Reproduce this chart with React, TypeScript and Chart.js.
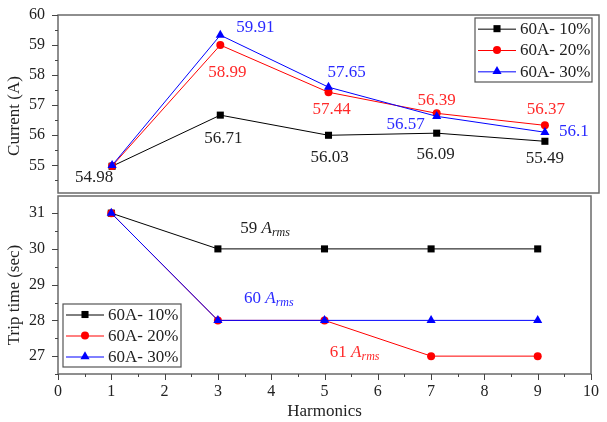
import React, { useEffect, useRef } from 'react';
import { Chart, registerables } from 'chart.js';

Chart.register(...registerables);

// ---------------- data ----------------
const harmonics = [1, 3, 5, 7, 9];
const seriesNames = ['60A- 10%', '60A- 20%', '60A- 30%'];

const current10 = [54.97, 56.67, 56.0, 56.07, 55.8];
const current20 = [54.98, 59.0, 57.43, 56.73, 56.33];
const current30 = [55.0, 59.33, 57.6, 56.63, 56.1];

const currentLabels10 = ['54.98', '56.71', '56.03', '56.09', '55.49'];
const currentLabels20 = ['', '58.99', '57.44', '56.39', '56.37'];
const currentLabels30 = ['', '59.91', '57.65', '56.57', '56.1'];

const trip10 = [31, 30, 30, 30, 30];
const trip20 = [31, 28, 28, 27, 27];
const trip30 = [31, 28, 28, 28, 28];

const xTickValues = [0, 1, 2, 3, 4, 5, 6, 7, 8, 9, 10];
const currentTickValues = [55, 56, 57, 58, 59, 60];
const tripTickValues = [27, 28, 29, 30, 31];

const rmsNumbers = ['59', '60', '61'];

// ---------------- styles ----------------
const FONT = "'Liberation Serif', 'Times New Roman', serif";
const LINE_COLORS = ['#000000', '#ff0000', '#0000ff'];
const TEXT_COLORS = ['#222222', '#ff2a2a', '#2a2aff'];
const RMS_COLORS = ['#222222', '#2a2aff', '#ff2a2a'];
const POINT_STYLES = ['rect', 'circle', 'triangle'];
const POINT_RADII = [5, 4, 5.3];
const FRAME_COLOR = '#6a6a6a';

// label offsets (pixels from point centre to text centre)
const currentLabelOffsets = [
  [[-18, 11], [3, 23], [1, 22], [-1, 21], [0, 17]],
  [null, [7, 27], [3, 17], [0, -13], [1, -16]],
  [null, [35, -8], [18, -15], [-31, 8], [29, -1]],
];
// annotation anchors in data space (left edge, baseline)
const rmsAnchors = [[3.42, 30.44], [3.49, 28.48], [5.1, 26.97]];

function drawMarker(ctx: CanvasRenderingContext2D, style: string, x: number, y: number, r: number, color: string) {
  ctx.save();
  ctx.fillStyle = color;
  ctx.beginPath();
  if (style === 'rect') {
    const s = r * Math.SQRT1_2;
    ctx.rect(x - s, y - s, 2 * s, 2 * s);
  } else if (style === 'circle') {
    ctx.arc(x, y, r, 0, Math.PI * 2);
  } else {
    const h = r;
    ctx.moveTo(x, y - h);
    ctx.lineTo(x + Math.sin((2 * Math.PI) / 3) * h, y - Math.cos((2 * Math.PI) / 3) * h);
    ctx.lineTo(x + Math.sin((4 * Math.PI) / 3) * h, y - Math.cos((4 * Math.PI) / 3) * h);
    ctx.closePath();
  }
  ctx.fill();
  ctx.restore();
}

function makeDatasets(values: number[][]) {
  return values.map((vals, i) => ({
    label: seriesNames[i],
    data: harmonics.map((h, j) => ({ x: h, y: vals[j] })),
    borderColor: LINE_COLORS[i],
    backgroundColor: LINE_COLORS[i],
    borderWidth: 1,
    pointStyle: POINT_STYLES[i],
    pointRadius: POINT_RADII[i],
    pointBorderWidth: 0,
    pointBackgroundColor: LINE_COLORS[i],
    pointBorderColor: LINE_COLORS[i],
    tension: 0,
    order: 2 - i,
  }));
}

function framePlugin(showX: boolean) {
  return {
    id: 'frameTicks',
    beforeDatasetsDraw(chart: any) {
      const { ctx, chartArea } = chart;
      const ys = chart.scales.y;
      const xs = chart.scales.x;
      ctx.save();
      ctx.strokeStyle = FRAME_COLOR;
      ctx.lineWidth = 1.5;
      ctx.strokeRect(chartArea.left, chartArea.top, chartArea.right - chartArea.left, chartArea.bottom - chartArea.top);
      ctx.lineWidth = 1;
      ctx.strokeStyle = '#444';
      ctx.beginPath();
      for (let v = Math.ceil(ys.min * 2) / 2; v <= ys.max + 1e-9; v += 0.5) {
        const py = Math.round(ys.getPixelForValue(v)) + 0.5;
        const len = Math.abs(v - Math.round(v)) < 1e-6 ? 6 : 3;
        ctx.moveTo(chartArea.left, py);
        ctx.lineTo(chartArea.left - len, py);
      }
      if (showX) {
        for (let v = 0; v <= 10 + 1e-9; v += 0.5) {
          const px = Math.round(xs.getPixelForValue(v)) + 0.5;
          const len = Math.abs(v - Math.round(v)) < 1e-6 ? 6 : 3;
          ctx.moveTo(px, chartArea.bottom);
          ctx.lineTo(px, chartArea.bottom + len);
        }
      }
      ctx.stroke();
      ctx.restore();
    },
  };
}

function legendPlugin(box: { x: number; y: number; w: number; h: number }) {
  return {
    id: 'customLegend',
    afterDatasetsDraw(chart: any) {
      const { ctx } = chart;
      ctx.save();
      ctx.fillStyle = '#ffffff';
      ctx.fillRect(box.x, box.y, box.w, box.h);
      ctx.strokeStyle = '#555';
      ctx.lineWidth = 1.2;
      ctx.strokeRect(box.x, box.y, box.w, box.h);
      const rowH = box.h / 3;
      seriesNames.forEach((name, i) => {
        const cy = box.y + rowH * (i + 0.5);
        ctx.strokeStyle = LINE_COLORS[i];
        ctx.lineWidth = 1;
        ctx.beginPath();
        ctx.moveTo(box.x + 3, cy + 0.5);
        ctx.lineTo(box.x + 41, cy + 0.5);
        ctx.stroke();
        drawMarker(ctx, POINT_STYLES[i], box.x + 22, cy, POINT_RADII[i], LINE_COLORS[i]);
        ctx.fillStyle = '#222';
        ctx.font = `17px ${FONT}`;
        ctx.textAlign = 'left';
        ctx.textBaseline = 'middle';
        ctx.fillText(name, box.x + 45, cy + 1);
      });
      ctx.restore();
    },
  };
}

function axisTitlePlugin(text: string, cx: number, cy: number, xTitle: boolean) {
  return {
    id: 'axisTitle',
    afterDraw(chart: any) {
      const { ctx } = chart;
      ctx.save();
      ctx.fillStyle = '#222';
      ctx.font = `17px ${FONT}`;
      ctx.textAlign = 'center';
      ctx.textBaseline = 'middle';
      ctx.translate(cx, cy);
      ctx.rotate(-Math.PI / 2);
      ctx.fillText(text, 0, 0);
      ctx.restore();
      if (xTitle) {
        ctx.save();
        ctx.fillStyle = '#222';
        ctx.font = `17px ${FONT}`;
        ctx.textAlign = 'center';
        ctx.textBaseline = 'middle';
        const xs = chart.scales.x;
        ctx.fillText('Harmonics', (xs.left + xs.right) / 2, chart.chartArea.bottom + 38);
        ctx.restore();
      }
    },
  };
}

const currentLabelPlugin = {
  id: 'currentLabels',
  afterDatasetsDraw(chart: any) {
    const { ctx } = chart;
    const allLabels = [currentLabels10, currentLabels20, currentLabels30];
    ctx.save();
    ctx.font = `17px ${FONT}`;
    ctx.textAlign = 'center';
    ctx.textBaseline = 'middle';
    allLabels.forEach((labels, i) => {
      const meta = chart.getDatasetMeta(i);
      labels.forEach((txt, j) => {
        const off = currentLabelOffsets[i][j];
        if (!txt || !off) return;
        const pt = meta.data[j];
        ctx.fillStyle = TEXT_COLORS[i];
        ctx.fillText(txt, pt.x + off[0], pt.y + off[1]);
      });
    });
    ctx.restore();
  },
};

const rmsPlugin = {
  id: 'rmsLabels',
  afterDatasetsDraw(chart: any) {
    const { ctx } = chart;
    const xs = chart.scales.x;
    const ys = chart.scales.y;
    ctx.save();
    ctx.textAlign = 'left';
    ctx.textBaseline = 'alphabetic';
    rmsNumbers.forEach((num, i) => {
      const x = xs.getPixelForValue(rmsAnchors[i][0]);
      const y = ys.getPixelForValue(rmsAnchors[i][1]);
      ctx.fillStyle = RMS_COLORS[i];
      ctx.font = `17px ${FONT}`;
      const pre = num + ' ';
      ctx.fillText(pre, x, y);
      let w = ctx.measureText(pre).width;
      ctx.font = `italic 17px ${FONT}`;
      ctx.fillText('A', x + w, y);
      w += ctx.measureText('A').width;
      ctx.font = `italic 12px ${FONT}`;
      ctx.fillText('rms', x + w, y + 3);
    });
    ctx.restore();
  },
};

const tickFont = { family: FONT, size: 16 };

const TOP_CANVAS_H = 205;
const BOT_CANVAS_TOP = 184;

export default function App() {
  const topRef = useRef<HTMLCanvasElement | null>(null);
  const botRef = useRef<HTMLCanvasElement | null>(null);

  useEffect(() => {
    const top = new Chart(topRef.current as HTMLCanvasElement, {
      type: 'line',
      data: { datasets: makeDatasets([current10, current20, current30]) as any },
      options: {
        animation: false,
        responsive: false,
        events: [],
        layout: { padding: { top: 15, right: 8, bottom: TOP_CANVAS_H - 193, left: 0 } },
        plugins: { legend: { display: false }, tooltip: { enabled: false } },
        scales: {
          x: { type: 'linear', min: 0, max: 10, display: false },
          y: {
            type: 'linear',
            min: 54.08,
            max: 60,
            afterFit: (s: any) => { s.width = 58; },
            afterBuildTicks: (s: any) => { s.ticks = currentTickValues.map((v) => ({ value: v })); },
            grid: { display: true, drawOnChartArea: false, drawTicks: true, tickLength: 13, tickColor: 'rgba(0,0,0,0)', color: 'rgba(0,0,0,0)' },
            border: { display: false },
            ticks: { font: tickFont, color: '#222', padding: 0, callback: (v: any) => String(v) },
          },
        },
      },
      plugins: [
        framePlugin(false),
        currentLabelPlugin,
        legendPlugin({ x: 475, y: 18, w: 117, h: 64 }),
        axisTitlePlugin('Current (A)', 15, 116, false),
      ],
    } as any);

    const bot = new Chart(botRef.current as HTMLCanvasElement, {
      type: 'line',
      data: { datasets: makeDatasets([trip10, trip20, trip30]) as any },
      options: {
        animation: false,
        responsive: false,
        events: [],
        layout: { padding: { top: 196 - BOT_CANVAS_TOP, right: 8, bottom: 0, left: 0 } },
        plugins: { legend: { display: false }, tooltip: { enabled: false } },
        scales: {
          x: {
            type: 'linear',
            min: 0,
            max: 10,
            afterFit: (s: any) => { s.height = 48; },
            afterBuildTicks: (s: any) => { s.ticks = xTickValues.map((v) => ({ value: v })); },
            grid: { display: false, drawTicks: false },
            border: { display: false },
            ticks: { font: tickFont, color: '#222', padding: 8, maxRotation: 0, callback: (v: any) => String(v) },
          },
          y: {
            type: 'linear',
            min: 26.5,
            max: 31.48,
            afterFit: (s: any) => { s.width = 58; },
            afterBuildTicks: (s: any) => { s.ticks = tripTickValues.map((v) => ({ value: v })); },
            grid: { display: true, drawOnChartArea: false, drawTicks: true, tickLength: 13, tickColor: 'rgba(0,0,0,0)', color: 'rgba(0,0,0,0)' },
            border: { display: false },
            ticks: { font: tickFont, color: '#222', padding: 0, callback: (v: any) => String(v) },
          },
        },
      },
      plugins: [
        framePlugin(true),
        rmsPlugin,
        legendPlugin({ x: 63, y: 304 - BOT_CANVAS_TOP, w: 118, h: 63 }),
        axisTitlePlugin('Trip time (sec)', 15, 295 - BOT_CANVAS_TOP, true),
      ],
    } as any);

    return () => {
      top.destroy();
      bot.destroy();
    };
  }, []);

  return (
    <div style={{ position: 'fixed', left: 0, top: 0, width: 607, height: 422, background: '#ffffff' }}>
      <canvas ref={topRef} width={607} height={TOP_CANVAS_H} style={{ position: 'absolute', left: 0, top: 0 }} />
      <canvas
        ref={botRef}
        width={607}
        height={422 - BOT_CANVAS_TOP}
        style={{ position: 'absolute', left: 0, top: BOT_CANVAS_TOP }}
      />
    </div>
  );
}
